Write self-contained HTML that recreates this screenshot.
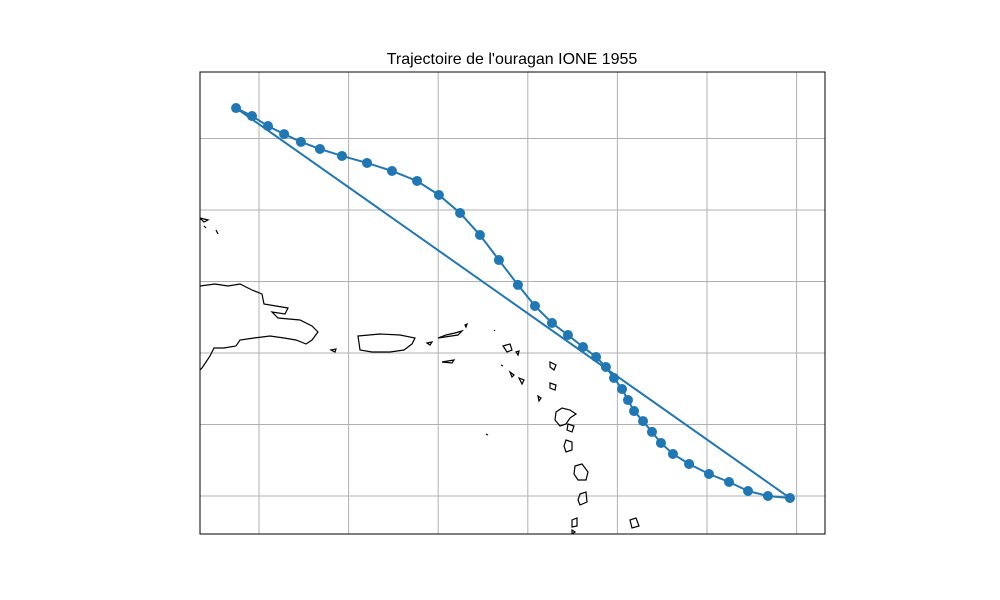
<!DOCTYPE html>
<html><head><meta charset="utf-8"><style>
body{margin:0;background:#fff;font-family:"Liberation Sans","DejaVu Sans",sans-serif}
svg{display:block}
</style></head><body>
<svg id="chart" width="1000" height="600" viewBox="0 0 1000 600">
<rect x="0" y="0" width="1000" height="600" fill="#fff"/>
<text x="512" y="64" text-anchor="middle" font-size="16" fill="#000">Trajectoire de l'ouragan IONE 1955</text>
<defs><clipPath id="clip"><rect x="200" y="72" width="625" height="462"/></clipPath></defs>
<g id="grid"></g>
<g clip-path="url(#clip)" fill="none" stroke="#000" stroke-width="1.2">
<path d="M200,286 L215,284 L228,286 L240,284 L252,290 L262,294 L264,304 L276,306 L288,308 L285,314 L272,312 L278,318 L300,320 L312,326 L318,332 L312,340 L306,344 L296,340 L284,338 L270,336 L254,338 L240,340 L236,346 L224,348 L214,348 L210,356 L206,362 L202,368 L200,370"/>
<path d="M358,336 L380,334 L400,335 L415,338 L412,344 L404,350 L390,352 L372,352 L360,350 Z"/>
<path d="M331,350 L336,349 L335,352 Z"/>
<path d="M427,343 L432,342 L430,345 Z"/>
<path d="M442,362 L454,360 L452,363 Z"/>
<path d="M438,338 L446,335 L455,333 L462,331 L458,335 Z"/>
<path d="M465,325 L467,324 L466,327 Z"/>
<path d="M503,346 L510,344 L512,350 L507,352 Z"/>
<path d="M516,352 L519,351 L518,355 Z"/>
<path d="M510,372 L514,375 L512,377 Z"/>
<path d="M519,378 L524,380 L522,384 Z"/>
<path d="M550,362 L556,365 L554,370 L550,367 Z"/>
<path d="M550,383 L556,385 L555,390 L550,388 Z"/>
<path d="M538,396 L541,398 L539,401 Z"/>
<path d="M556,412 L562,408 L570,410 L576,414 L570,418 L566,424 L560,426 L555,420 Z"/>
<path d="M568,424 L574,426 L572,432 L567,430 Z"/>
<path d="M566,440 L572,442 L572,450 L566,452 L564,446 Z"/>
<path d="M575,466 L582,464 L588,472 L586,480 L578,480 L574,474 Z"/>
<path d="M580,494 L586,492 L587,502 L580,505 L578,500 Z"/>
<path d="M572,520 L577,518 L577,526 L572,527 Z"/>
<path d="M630,520 L636,518 L639,526 L632,528 Z"/>
<path d="M572,530 L575,532 L572,534 Z"/>
<path d="M200,218 L208,220 L204,222 Z"/>
<path d="M204,226 L206,228 Z"/>
<path d="M216,230 L218,234 Z"/>
<path d="M486,434 L488,435 Z"/>
<path d="M494,330 L495,331 Z"/>
<path d="M501,365 L503,366 Z"/>
</g>
<g id="track" clip-path="url(#clip)"></g>
<rect x="200" y="72" width="625" height="462" fill="none" stroke="#000" stroke-width="1"/>
</svg>
<script>
const lonGrid = [-70,-65,-60,-55,-50,-45,-40];
const latGrid = [10,15,20,25,30,35];
const trackLon = [-71.28,-70.39,-69.50,-68.60,-67.66,-66.60,-65.37,-63.97,-62.58,-61.18,-59.96,-58.78,-57.67,-56.61,-55.55,-54.60,-53.65,-52.76,-51.92,-51.19,-50.64,-50.19,-49.74,-49.41,-49.07,-48.57,-48.07,-47.57,-46.90,-46.00,-44.89,-43.77,-42.71,-41.60,-40.37];
const trackLat = [37.13,36.57,35.87,35.31,34.76,34.27,33.78,33.29,32.73,32.03,31.05,29.79,28.25,26.50,24.76,23.29,22.10,21.26,20.42,19.72,19.02,18.25,17.48,16.71,15.94,15.24,14.48,13.71,12.94,12.24,11.54,10.98,10.35,10.00,9.86];
const NS='http://www.w3.org/2000/svg';
function xS(lon){return 259+(lon+70)*17.92;}
function yS(lat){return 496-(lat-10)*14.3;}
const grid=document.getElementById('grid');
lonGrid.forEach(v=>{const l=document.createElementNS(NS,'line');
l.setAttribute('x1',xS(v));l.setAttribute('x2',xS(v));l.setAttribute('y1',72);l.setAttribute('y2',534);
l.setAttribute('stroke','#b0b0b0');l.setAttribute('stroke-width','1');


grid.appendChild(l);});
latGrid.forEach(v=>{const l=document.createElementNS(NS,'line');
l.setAttribute('y1',yS(v));l.setAttribute('y2',yS(v));l.setAttribute('x1',200);l.setAttribute('x2',825);
l.setAttribute('stroke','#b0b0b0');l.setAttribute('stroke-width','1');


grid.appendChild(l);});
const tr=document.getElementById('track');
let pts=trackLon.map((lo,i)=>xS(lo)+','+yS(trackLat[i]));
pts.push(pts[0]);
const pl=document.createElementNS(NS,'polyline');
pl.setAttribute('points',pts.join(' '));
pl.setAttribute('fill','none');pl.setAttribute('stroke','#1f77b4');pl.setAttribute('stroke-width','2');


tr.appendChild(pl);
trackLon.forEach((lo,i)=>{const c=document.createElementNS(NS,'circle');
c.setAttribute('cx',xS(lo));c.setAttribute('cy',yS(trackLat[i]));c.setAttribute('r',5);c.setAttribute('fill','#1f77b4');


tr.appendChild(c);});
</script>
</body></html>
